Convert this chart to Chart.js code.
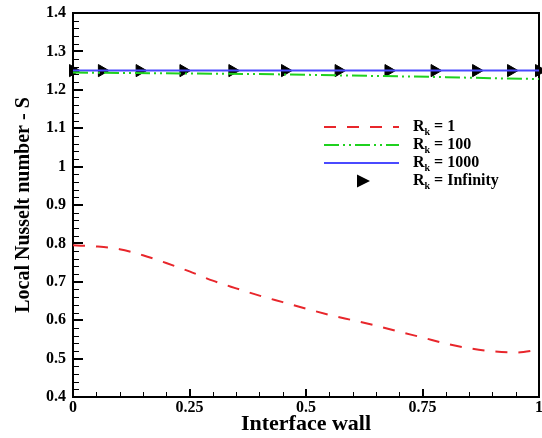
<!DOCTYPE html>
<html>
<head>
<meta charset="utf-8">
<script src="https://cdn.jsdelivr.net/npm/chart.js@4.4.0/dist/chart.umd.min.js"></script>
<style>
  html, body { margin: 0; padding: 0; background: #fff; }
</style>
</head>
<body>
<canvas id="chart" width="542" height="438"></canvas>
<script>
// x positions along the interface wall
const xWall = [0, 0.05, 0.1, 0.15, 0.2, 0.25, 0.3, 0.35, 0.4, 0.45, 0.5,
               0.55, 0.6, 0.65, 0.7, 0.75, 0.8, 0.85, 0.9, 0.95, 1];
const rk1 = [0.795, 0.792, 0.785, 0.769, 0.749, 0.727, 0.703, 0.683, 0.664, 0.647, 0.630,
             0.614, 0.600, 0.586, 0.570, 0.555, 0.539, 0.527, 0.519, 0.516, 0.523];
const xCoarse = [0, 0.1, 0.2, 0.3, 0.4, 0.5, 0.6, 0.7, 0.8, 0.9, 1];
const rk100 = [1.245, 1.244, 1.243, 1.242, 1.241, 1.239, 1.237, 1.235, 1.233, 1.230, 1.228];
const rk1000 = [1.25, 1.25, 1.25, 1.25, 1.25, 1.25, 1.25, 1.25, 1.25, 1.25, 1.25];
// marker positions for Rk = Infinity
const xInf = [0, 0.062, 0.143, 0.237, 0.342, 0.455, 0.57, 0.677, 0.776, 0.865, 0.94, 1];
const rkInf = [1.25, 1.25, 1.25, 1.25, 1.25, 1.25, 1.25, 1.25, 1.25, 1.25, 1.25, 1.25];

const yTicks = [0.4, 0.5, 0.6, 0.7, 0.8, 0.9, 1, 1.1, 1.2, 1.3, 1.4];
const xTicks = [0, 0.25, 0.5, 0.75, 1];
const legendLabels = ['1', '100', '1000', 'Infinity'];

const pts = (xs, ys) => xs.map((x, i) => ({ x: x, y: ys[i] }));
const serif = '"Liberation Serif", "Times New Roman", serif';

// frame plus inward ticks on the left and bottom axes
const frameTicks = {
  id: 'frameTicks',
  beforeDatasetsDraw(chart) {
    const { ctx, chartArea: a, scales: { x, y } } = chart;
    ctx.save();
    ctx.strokeStyle = '#000';
    ctx.lineWidth = 1;
    for (let v = 0.42; v < 1.4; v += 0.02) {
      const py = Math.round(y.getPixelForValue(v)) + 0.5;
      ctx.beginPath(); ctx.moveTo(a.left, py); ctx.lineTo(a.left + 6, py); ctx.stroke();
    }
    for (let v = 0.05; v < 1; v += 0.05) {
      const px = Math.round(x.getPixelForValue(v)) + 0.5;
      ctx.beginPath(); ctx.moveTo(px, a.bottom); ctx.lineTo(px, a.bottom - 5); ctx.stroke();
    }
    ctx.lineWidth = 2;
    yTicks.forEach(v => {
      const py = Math.round(y.getPixelForValue(v));
      ctx.beginPath(); ctx.moveTo(a.left, py); ctx.lineTo(a.left + 10, py); ctx.stroke();
    });
    xTicks.forEach(v => {
      const px = Math.round(x.getPixelForValue(v));
      ctx.beginPath(); ctx.moveTo(px, a.bottom); ctx.lineTo(px, a.bottom - 8); ctx.stroke();
    });
    ctx.strokeRect(a.left, a.top, a.right - a.left, a.bottom - a.top);
    ctx.restore();
  }
};

// legend with subscript k
const rkLegend = {
  id: 'rkLegend',
  afterDraw(chart) {
    const ctx = chart.ctx;
    ctx.save();
    chart.data.datasets.forEach((ds, i) => {
      const yy = 127 + i * 18;
      if (ds.showLine === false) {
        ctx.fillStyle = '#000';
        ctx.beginPath();
        ctx.moveTo(357, yy - 6.5); ctx.lineTo(370, yy); ctx.lineTo(357, yy + 6.5);
        ctx.closePath(); ctx.fill();
      } else {
        ctx.strokeStyle = ds.borderColor;
        ctx.lineWidth = ds.borderWidth;
        ctx.setLineDash(ds.borderDash || []);
        ctx.beginPath(); ctx.moveTo(324, yy); ctx.lineTo(399, yy); ctx.stroke();
        ctx.setLineDash([]);
      }
      ctx.fillStyle = '#000';
      ctx.textBaseline = 'middle';
      ctx.font = 'bold 16px ' + serif;
      ctx.fillText('R', 413, yy);
      const w = ctx.measureText('R').width;
      ctx.font = 'bold 10px ' + serif;
      ctx.fillText('k', 413 + w, yy + 5);
      const wk = ctx.measureText('k').width;
      ctx.font = 'bold 16px ' + serif;
      ctx.fillText(' = ' + legendLabels[i], 413 + w + wk, yy);
    });
    ctx.restore();
  }
};

new Chart(document.getElementById('chart'), {
  type: 'line',
  data: {
    datasets: [
      {
        label: 'Rk = 1',
        data: pts(xWall, rk1),
        borderColor: '#e8262b',
        borderWidth: 2,
        borderDash: [12, 11],
        pointRadius: 0,
        cubicInterpolationMode: 'monotone'
      },
      {
        label: 'Rk = 100',
        data: pts(xCoarse, rk100),
        borderColor: '#1fd11f',
        borderWidth: 2,
        borderDash: [15, 4, 2, 4, 2, 4],
        pointRadius: 0
      },
      {
        label: 'Rk = 1000',
        data: pts(xCoarse, rk1000),
        borderColor: '#4a4aff',
        borderWidth: 2,
        pointRadius: 0
      },
      {
        label: 'Rk = Infinity',
        data: pts(xInf, rkInf),
        showLine: false,
        pointStyle: 'triangle',
        rotation: 90,
        pointRadius: 7,
        pointBorderWidth: 1,
        backgroundColor: '#000',
        borderColor: '#000',
        clip: false
      }
    ]
  },
  options: {
    responsive: false,
    animation: false,
    layout: { autoPadding: false, padding: { top: 13, right: 3, left: 0, bottom: 0 } },
    plugins: { legend: { display: false }, tooltip: { enabled: false } },
    scales: {
      x: {
        type: 'linear',
        min: 0,
        max: 1,
        grid: { display: false, drawTicks: false, tickLength: 0 },
        border: { display: false },
        afterBuildTicks: s => { s.ticks = xTicks.map(v => ({ value: v })); },
        afterFit: s => { s.height = 41; s.paddingLeft = 0; s.paddingRight = 0; },
        ticks: {
          color: '#000',
          padding: 1,
          maxRotation: 0,
          font: { family: serif, size: 16, weight: 'bold' },
          callback: v => String(+v.toFixed(2))
        },
        title: {
          display: true,
          text: 'Interface wall',
          color: '#000',
          padding: { top: 0, bottom: 0 },
          font: { family: serif, size: 22, weight: 'bold' }
        }
      },
      y: {
        min: 0.4,
        max: 1.4,
        grid: { display: false, drawTicks: false, tickLength: 0 },
        border: { display: false },
        afterBuildTicks: s => { s.ticks = yTicks.map(v => ({ value: v })); },
        afterFit: s => { s.width = 73; s.paddingTop = 0; s.paddingBottom = 0; },
        ticks: {
          color: '#000',
          padding: 7,
          font: { family: serif, size: 16, weight: 'bold' },
          callback: v => String(+v.toFixed(2))
        },
        title: {
          display: true,
          text: 'Local Nusselt number - S',
          color: '#000',
          padding: { top: 12, bottom: 0 },
          font: { family: serif, size: 20, weight: 'bold' }
        }
      }
    }
  },
  plugins: [frameTicks, rkLegend]
});
</script>
</body>
</html>
